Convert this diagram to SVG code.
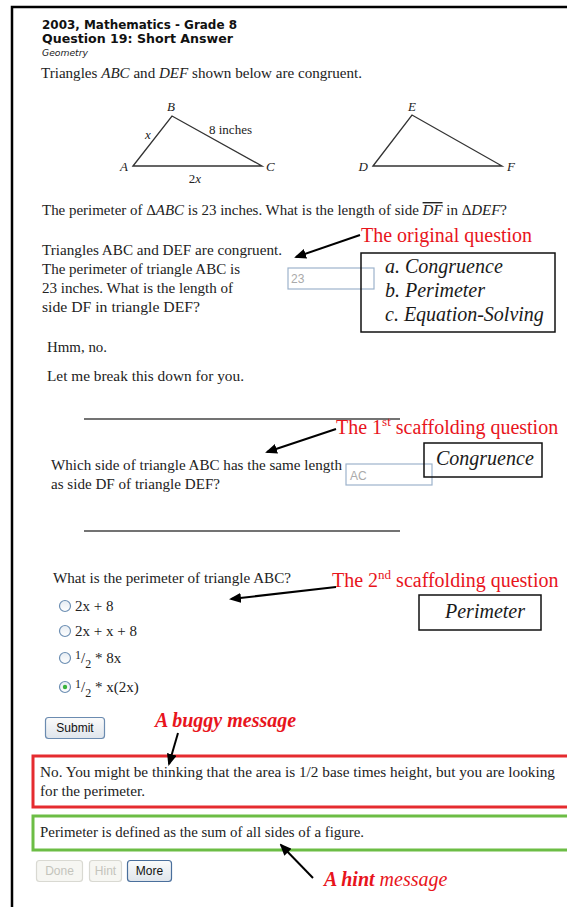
<svg xmlns="http://www.w3.org/2000/svg" width="567" height="907" viewBox="0 0 567 907">
  <style>
    .body { font-family: "Liberation Serif", "Times New Roman", serif; font-size: 14px; fill: #222; }
    .head { font-family: "DejaVu Sans", Verdana, sans-serif; font-weight: bold; font-size: 12px; fill: #111; }
    .note { font-family: "Liberation Serif", "Times New Roman", serif; font-size: 20px; fill: #e8141c; }
    .tag { font-family: "Liberation Serif", "Times New Roman", serif; font-style: italic; font-size: 20px; fill: #1a1a1a; }
    .fig { font-family: "Liberation Serif", "Times New Roman", serif; font-size: 13px; fill: #222; }
    .opt { font-family: "Liberation Serif", "Times New Roman", serif; font-size: 15px; fill: #222; }
    .btn { font-family: "Liberation Sans", Arial, sans-serif; font-size: 12px; text-anchor: middle; }
    .box { fill: none; stroke: #111; stroke-width: 1.5; }
    .field { fill: #fff; stroke: #9db3cc; stroke-width: 1.2; }
    .fieldtxt { font-family: "Liberation Sans", Arial, sans-serif; font-size: 12px; fill: #aaa; }
    .rule { stroke: #444; stroke-width: 1.5; }
    .tri { fill: none; stroke: #333; stroke-width: 1.3; }
    .radio { fill: url(#radioFill); stroke: #6d8fb3; stroke-width: 1.2; }
    .conn { stroke: #000; stroke-width: 2; fill: none; marker-end: url(#ah); }
  </style>
  <defs>
    <marker id="ah" markerWidth="12" markerHeight="10" refX="10" refY="5" orient="auto" markerUnits="userSpaceOnUse">
      <path d="M0,0 L12,5 L0,10 z" fill="#000"/>
    </marker>
    <linearGradient id="btnFill" x1="0" y1="0" x2="0" y2="1">
      <stop offset="0" stop-color="#fbfbfb"/>
      <stop offset="1" stop-color="#dfe5ec"/>
    </linearGradient>
    <linearGradient id="radioFill" x1="0" y1="0" x2="0" y2="1">
      <stop offset="0" stop-color="#e6ecf2"/>
      <stop offset="1" stop-color="#ffffff"/>
    </linearGradient>
  </defs>

  <rect x="0" y="0" width="567" height="907" fill="#fff"/>

  <!-- page frame -->
  <g id="frame">
    <path d="M12,907 V7 H567" fill="none" stroke="#000" stroke-width="2.5"/>
  </g>

  <!-- problem header -->
  <g id="header">
    <text class="head" x="42" y="29" textLength="195" lengthAdjust="spacingAndGlyphs">2003, Mathematics - Grade 8</text>
    <text class="head" x="42" y="43" textLength="191" lengthAdjust="spacingAndGlyphs">Question 19: Short Answer</text>
    <text x="42" y="56" font-family="DejaVu Sans, sans-serif" font-style="italic" font-size="9" fill="#222" textLength="46" lengthAdjust="spacingAndGlyphs">Geometry</text>
    <text class="body" x="41" y="78" textLength="321" lengthAdjust="spacingAndGlyphs">Triangles <tspan font-style="italic">ABC</tspan> and <tspan font-style="italic">DEF</tspan> shown below are congruent.</text>
  </g>

  <!-- the two congruent triangles -->
  <g id="triangles">
    <polygon class="tri" points="133,166 172,116 262,166"/>
    <polygon class="tri" points="373,166 412,115 502,166"/>
    <g class="fig" font-style="italic">
      <text x="171" y="111" text-anchor="middle">B</text>
      <text x="128" y="171" text-anchor="end">A</text>
      <text x="266" y="171">C</text>
      <text x="148" y="139" text-anchor="middle">x</text>
      <text x="412" y="111" text-anchor="middle">E</text>
      <text x="368" y="171" text-anchor="end">D</text>
      <text x="507" y="171">F</text>
    </g>
    <text class="fig" x="209" y="134">8 inches</text>
    <text class="fig" x="195" y="183" text-anchor="middle">2<tspan font-style="italic">x</tspan></text>
  </g>

  <!-- original question -->
  <g id="original-question">
    <text class="body" x="42" y="215" textLength="465" lengthAdjust="spacingAndGlyphs">The perimeter of Δ<tspan font-style="italic">ABC</tspan> is 23 inches. What is the length of side <tspan font-style="italic" style="text-decoration:overline">DF</tspan> in Δ<tspan font-style="italic">DEF</tspan>?</text>
    <text class="body" x="42" y="255" textLength="240" lengthAdjust="spacingAndGlyphs">Triangles ABC and DEF are congruent.</text>
    <text class="body" x="42" y="274" textLength="198" lengthAdjust="spacingAndGlyphs">The perimeter of triangle ABC is</text>
    <text class="body" x="42" y="293" textLength="191" lengthAdjust="spacingAndGlyphs">23 inches. What is the length of</text>
    <text class="body" x="42" y="312" textLength="158" lengthAdjust="spacingAndGlyphs">side DF in triangle DEF?</text>
    <rect class="field" x="288" y="268" width="86" height="21"/>
    <text class="fieldtxt" x="291" y="283">23</text>
  </g>

  <g id="skills-original">
    <rect class="box" x="361" y="253" width="194" height="79"/>
    <text class="tag" x="385" y="273">a. Congruence</text>
    <text class="tag" x="385" y="297">b. Perimeter</text>
    <text class="tag" x="385" y="321">c. Equation-Solving</text>
  </g>

  <!-- tutor reply -->
  <g id="reply">
    <text class="body" x="47" y="352" textLength="60" lengthAdjust="spacingAndGlyphs">Hmm, no.</text>
    <text class="body" x="47" y="381" textLength="197" lengthAdjust="spacingAndGlyphs">Let me break this down for you.</text>
  </g>

  <!-- scaffolding question 1 -->
  <g id="scaffold-1">
    <line class="rule" x1="84" y1="419" x2="400" y2="419"/>
    <text class="body" x="51" y="470" textLength="291" lengthAdjust="spacingAndGlyphs">Which side of triangle ABC has the same length</text>
    <text class="body" x="51" y="489" textLength="169" lengthAdjust="spacingAndGlyphs">as side DF of triangle DEF?</text>
    <rect class="field" x="346" y="464" width="86" height="21"/>
    <text class="fieldtxt" x="350" y="480">AC</text>
  </g>

  <g id="skill-congruence">
    <rect class="box" x="424" y="443" width="118" height="34"/>
    <text class="tag" x="436" y="465">Congruence</text>
  </g>

  <!-- scaffolding question 2 -->
  <g id="scaffold-2">
    <line class="rule" x1="84" y1="531" x2="400" y2="531"/>
    <text class="body" x="53" y="583" font-size="13" textLength="238" lengthAdjust="spacingAndGlyphs">What is the perimeter of triangle ABC?</text>
    <circle class="radio" cx="65" cy="606" r="5.5"/>
    <text class="opt" x="75" y="611">2x + 8</text>
    <circle class="radio" cx="65" cy="631" r="5.5"/>
    <text class="opt" x="75" y="636">2x + x + 8</text>
    <circle class="radio" cx="65" cy="658" r="5.5"/>
    <text class="opt" x="75" y="663"><tspan dy="-4" font-size="12">1</tspan><tspan dy="4">/</tspan><tspan dy="5" font-size="12">2</tspan><tspan dy="-5"> * 8x</tspan></text>
    <circle class="radio" cx="65" cy="687" r="5.5"/>
    <circle cx="65" cy="687" r="2.2" fill="#39b33c"/>
    <text class="opt" x="75" y="692"><tspan dy="-4" font-size="12">1</tspan><tspan dy="4">/</tspan><tspan dy="5" font-size="12">2</tspan><tspan dy="-5"> * x(2x)</tspan></text>
    <rect x="45.5" y="717.5" width="59" height="21" rx="3" fill="url(#btnFill)" stroke="#6b8bb0" stroke-width="1.2"/>
    <text class="btn" x="75" y="732" fill="#111">Submit</text>
  </g>

  <g id="skill-perimeter">
    <rect class="box" x="419" y="595" width="122" height="35"/>
    <text class="tag" x="445" y="618">Perimeter</text>
  </g>

  <!-- feedback messages -->
  <g id="buggy-feedback">
    <rect x="33" y="756" width="540" height="51" fill="none" stroke="#e52b2f" stroke-width="3"/>
    <text class="body" x="40" y="777" textLength="515" lengthAdjust="spacingAndGlyphs">No.  You might be thinking that the area is 1/2 base times height, but you are looking</text>
    <text class="body" x="40" y="796" textLength="105" lengthAdjust="spacingAndGlyphs">for the perimeter.</text>
  </g>

  <g id="hint-feedback">
    <rect x="33" y="816" width="540" height="34" fill="none" stroke="#6cbd45" stroke-width="3"/>
    <text class="body" x="40" y="837" textLength="324" lengthAdjust="spacingAndGlyphs">Perimeter is defined as the sum of all sides of a figure.</text>
  </g>

  <g id="controls">
    <rect x="36.5" y="860.5" width="46" height="21" rx="3" fill="#f6f6f2" stroke="#d9d9d2" stroke-width="1.2"/>
    <text class="btn" x="59.5" y="875" fill="#c4c4bc">Done</text>
    <rect x="89.5" y="860.5" width="32" height="21" rx="3" fill="#f6f6f2" stroke="#d9d9d2" stroke-width="1.2"/>
    <text class="btn" x="105.5" y="875" fill="#c4c4bc">Hint</text>
    <rect x="127.5" y="860.5" width="44" height="21" rx="3" fill="url(#btnFill)" stroke="#4a6f9c" stroke-width="1.2"/>
    <text class="btn" x="149.5" y="875" fill="#111">More</text>
  </g>

  <!-- annotation labels -->
  <g id="label-original">
    <text class="note" x="361" y="242">The original question</text>
  </g>
  <g id="label-scaffold-1">
    <text class="note" x="336" y="434">The 1<tspan dy="-8" font-size="13">st</tspan><tspan dy="8"> scaffolding question</tspan></text>
  </g>
  <g id="label-scaffold-2">
    <text class="note" x="332" y="587">The 2<tspan dy="-8" font-size="13">nd</tspan><tspan dy="8"> scaffolding question</tspan></text>
  </g>
  <g id="label-buggy">
    <text class="note" x="155" y="727" font-style="italic" font-weight="bold">A buggy message</text>
  </g>
  <g id="label-hint">
    <text class="note" x="324" y="886" font-style="italic"><tspan font-weight="bold">A hint</tspan> message</text>
  </g>

  <!-- connectors -->
  <g id="connectors">
    <line class="conn" x1="360" y1="235" x2="296" y2="257"/>
    <line class="conn" x1="336" y1="429" x2="267" y2="452"/>
    <line class="conn" x1="336" y1="587" x2="231" y2="599"/>
    <line class="conn" x1="178" y1="733" x2="169" y2="764"/>
    <line class="conn" x1="313" y1="878" x2="281" y2="845"/>
  </g>
</svg>
